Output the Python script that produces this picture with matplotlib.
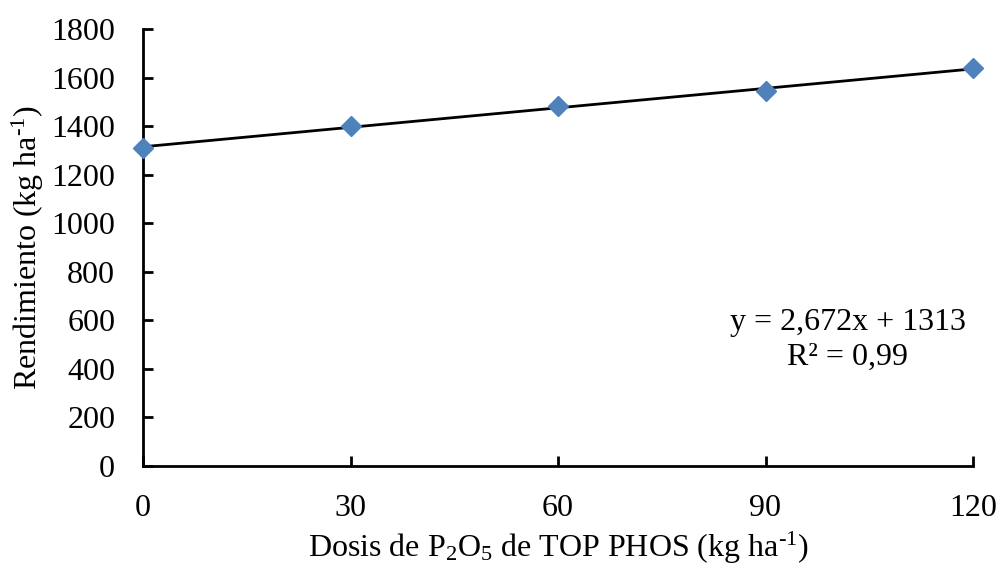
import numpy as np
import matplotlib
matplotlib.use("Agg")
import matplotlib.pyplot as plt

plt.rcParams["font.family"] = ["Liberation Serif", "DejaVu Serif"]
plt.rcParams["mathtext.fontset"] = "custom"
plt.rcParams["mathtext.rm"] = "Liberation Serif"
plt.rcParams["mathtext.it"] = "Liberation Serif:italic"

# Phosphorus dose (kg P2O5/ha) and grain yield (kg/ha)
dosis = [0, 30, 60, 90, 120]
rendimiento = [1310, 1400, 1482, 1546, 1638]
x_ticks = [0, 30, 60, 90, 120]
y_ticks = [0, 200, 400, 600, 800, 1000, 1200, 1400, 1600, 1800]

FS = 23

fig = plt.figure(figsize=(10, 5.68), dpi=100)
ax = fig.add_axes([0.143, 0.1796, 0.830, 0.7694])

# Linear trend line
slope, intercept = np.polyfit(dosis, rendimiento, 1)
xl = np.array([min(dosis), max(dosis)])
ax.plot(xl, slope * xl + intercept, color="black", lw=2.0, zorder=2)

ax.plot(dosis, rendimiento, linestyle="none", marker="D", markersize=10.5,
        color="#4F81BD", markeredgecolor="#4F81BD", zorder=3, clip_on=False)

ax.set_xlim(0, 120)
ax.set_ylim(0, 1800)
ax.set_xticks(x_ticks)
ax.set_yticks(y_ticks)

for side in ("top", "right"):
    ax.spines[side].set_visible(False)
for side in ("left", "bottom"):
    ax.spines[side].set_linewidth(2.0)

ax.tick_params(axis="both", direction="in", length=7, width=2.0,
               labelsize=FS)
ax.tick_params(axis="x", pad=20)
ax.tick_params(axis="y", pad=20)

ax.set_xlabel(r"Dosis de P$_2$O$_5$ de TOP PHOS (kg ha$^{\text{-}1}$)",
              fontsize=FS, labelpad=5)
ax.set_ylabel(r"Rendimiento (kg ha$^{\text{-}1}$)", fontsize=FS,
              labelpad=4)

ax.text(101.9, 593, "y = 2,672x + 1313", ha="center", va="center",
        fontsize=FS)
ax.text(101.9, 449, "R² = 0,99", ha="center", va="center", fontsize=FS)

fig.savefig("out.png", dpi=100)
